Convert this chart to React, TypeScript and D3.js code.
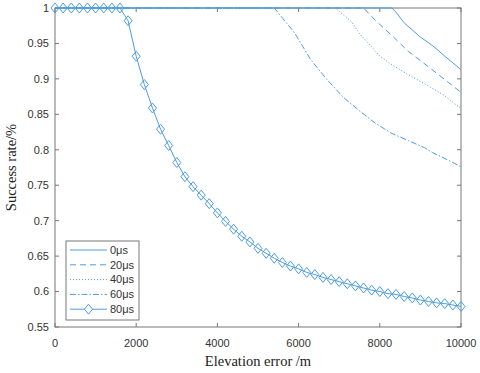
import * as d3 from "d3";

// elevation error grid for the marker series (m)
const elev80 = d3.range(0, 10001, 200);
const rate80 = [
  1, 1, 1, 1, 1, 1, 1, 1, 1,
  0.982, 0.932, 0.892, 0.859, 0.829, 0.806, 0.782, 0.762, 0.748, 0.736,
  0.724, 0.711, 0.699, 0.688, 0.678, 0.67, 0.661, 0.654, 0.647, 0.641,
  0.636, 0.632, 0.627, 0.624, 0.62, 0.617, 0.614, 0.611, 0.608, 0.605,
  0.602, 0.6, 0.597, 0.596, 0.593, 0.591, 0.588, 0.586, 0.584, 0.583,
  0.581, 0.579,
];

const elev0 = [0, 8300, 8400, 8600, 9000, 9300, 9600, 10000];
const rate0 = [1, 1, 0.994, 0.979, 0.959, 0.947, 0.932, 0.913];

const elev20 = [0, 7600, 7900, 8300, 8700, 9200, 9600, 10000];
const rate20 = [1, 1, 0.982, 0.961, 0.939, 0.917, 0.899, 0.881];

const elev40 = [0, 6900, 7300, 7500, 7800, 8000, 8300, 8700, 9200, 9600, 10000];
const rate40 = [1, 1, 0.981, 0.964, 0.945, 0.932, 0.92, 0.906, 0.89, 0.876, 0.858];

const elev60 = [0, 5400, 5900, 6300, 6700, 7100, 7500, 7900, 8300, 8700, 9100, 9300, 9700, 10000];
const rate60 = [1, 1, 0.965, 0.927, 0.899, 0.874, 0.855, 0.837, 0.823, 0.813, 0.803, 0.796, 0.785, 0.776];

const xTicks = [0, 2000, 4000, 6000, 8000, 10000];
const yTicks = [0.55, 0.6, 0.65, 0.7, 0.75, 0.8, 0.85, 0.9, 0.95, 1];
const seriesNames = ["0μs", "20μs", "40μs", "60μs", "80μs"];

const blue = "#4d9de0";
const axisColor = "#777";

export default function App() {
  const width = 480;
  const height = 373;
  const left = 55;
  const right = 461;
  const top = 8;
  const bottom = 327;

  const x = d3.scaleLinear().domain([0, 10000]).range([left, right]);
  const y = d3.scaleLinear().domain([0.55, 1]).range([bottom, top]);

  const line = d3
    .line<[number, number]>()
    .x((d) => x(d[0]))
    .y((d) => y(d[1]));

  const zip = (xs: number[], ys: number[]) =>
    xs.map((v, i) => [v, ys[i]] as [number, number]);

  const series = [
    { pts: zip(elev0, rate0), dash: undefined as string | undefined },
    { pts: zip(elev20, rate20), dash: "6,4" },
    { pts: zip(elev40, rate40), dash: "1,2" },
    { pts: zip(elev60, rate60), dash: "6,2,1.5,2" },
    { pts: zip(elev80, rate80), dash: undefined },
  ];

  const diamond = (cx: number, cy: number) =>
    `M${cx},${cy - 5}L${cx + 4},${cy}L${cx},${cy + 5}L${cx - 4},${cy}Z`;

  // legend geometry
  const lgX = 66;
  const lgY = 241;
  const lgW = 73;
  const lgH = 79;
  const rowH = 14.8;

  return (
    <svg
      width={width}
      height={height}
      style={{ position: "absolute", left: 0, top: 0, background: "#fff" }}
    >
      <rect x={0} y={0} width={width} height={height} fill="#fff" />

      {/* ticks, inward on all four sides */}
      {xTicks.map((t) => (
        <g key={"xt" + t}>
          <line x1={x(t)} x2={x(t)} y1={bottom} y2={bottom - 4} stroke={axisColor} />
          <line x1={x(t)} x2={x(t)} y1={top} y2={top + 4} stroke={axisColor} />
          <text
            x={x(t)}
            y={bottom + 20}
            textAnchor="middle"
            fontFamily="Liberation Sans, Arial, sans-serif"
            fontSize={11}
            fill="#333"
          >
            {t}
          </text>
        </g>
      ))}
      {yTicks.map((t) => (
        <g key={"yt" + t}>
          <line x1={left} x2={left + 4} y1={y(t)} y2={y(t)} stroke={axisColor} />
          <line x1={right} x2={right - 4} y1={y(t)} y2={y(t)} stroke={axisColor} />
          <text
            x={left - 6}
            y={y(t)}
            dy="0.35em"
            textAnchor="end"
            fontFamily="Liberation Sans, Arial, sans-serif"
            fontSize={11}
            fill="#333"
          >
            {t}
          </text>
        </g>
      ))}

      <rect
        x={left}
        y={top}
        width={right - left}
        height={bottom - top}
        fill="none"
        stroke={axisColor}
        strokeWidth={1}
      />

      {series.map((s, i) => (
        <path
          key={"s" + i}
          d={line(s.pts) || ""}
          fill="none"
          stroke={blue}
          strokeWidth={1}
          strokeDasharray={s.dash}
        />
      ))}

      {zip(elev80, rate80).map((d, i) => (
        <path key={"m" + i} d={diamond(x(d[0]), y(d[1]))} fill="none" stroke={blue} strokeWidth={1} />
      ))}

      {/* legend */}
      <rect x={lgX} y={lgY} width={lgW} height={lgH} fill="#fff" stroke={axisColor} />
      {seriesNames.map((name, i) => {
        const cy = lgY + 9 + i * rowH;
        return (
          <g key={"lg" + i}>
            <line
              x1={lgX + 4}
              x2={lgX + 41}
              y1={cy}
              y2={cy}
              stroke={blue}
              strokeDasharray={series[i].dash}
            />
            {i === 4 && <path d={diamond(lgX + 22.5, cy)} fill="#fff" stroke={blue} />}
            <text
              x={lgX + 44}
              y={cy}
              dy="0.35em"
              fontFamily="Liberation Sans, Arial, sans-serif"
              fontSize={11}
              fill="#333"
            >
              {name}
            </text>
          </g>
        );
      })}

      <text
        x={(left + right) / 2}
        y={366}
        textAnchor="middle"
        fontFamily="Liberation Serif, Times New Roman, serif"
        fontSize={14.5}
        fill="#222"
      >
        Elevation error /m
      </text>
      <text
        transform={`translate(16,${(top + bottom) / 2}) rotate(-90)`}
        textAnchor="middle"
        fontFamily="Liberation Serif, Times New Roman, serif"
        fontSize={14.5}
        fill="#222"
      >
        Success rate/%
      </text>
    </svg>
  );
}
